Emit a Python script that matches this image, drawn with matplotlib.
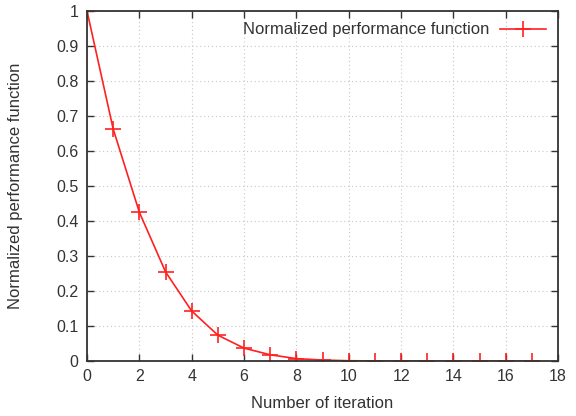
import numpy as np
import matplotlib.pyplot as plt

plt.rcParams['font.family'] = ['Liberation Sans', 'DejaVu Sans']

iterations = np.arange(0, 18)
perf = [1.0, 0.663, 0.425, 0.255, 0.143, 0.074, 0.037, 0.018, 0.007,
        0.003, 0.001, 0.0005, 0.0002, 0.0001, 0.0, 0.0, 0.0, 0.0]

fig = plt.figure(figsize=(5.76, 4.16), dpi=100)
ax = fig.add_axes([0.151, 0.132, 0.818, 0.842])

ax.plot(iterations, perf, color='#ff2020', linewidth=1.2, marker='+',
        markersize=11, markeredgewidth=1.2, label='Normalized performance function')

ax.set_xlim(0, 18)
ax.set_ylim(0, 1)
ax.set_xticks(np.arange(0, 19, 2))
ax.set_yticks(np.arange(0, 1.01, 0.1))
ax.set_yticklabels(['0', '0.1', '0.2', '0.3', '0.4', '0.5', '0.6', '0.7', '0.8', '0.9', '1'])
ax.tick_params(direction='in', top=True, right=True, length=5, width=1,
               labelsize=11.5, colors='#333333', pad=6)
ax.grid(True, linestyle=(0, (1, 2.5)), color='#c8c8c8', linewidth=0.8)
for s in ax.spines.values():
    s.set_linewidth(1.3)
    s.set_color('#333333')

ax.set_xlabel('Number of iteration', fontsize=12, color='#333333', labelpad=8)
ax.set_ylabel('Normalized performance function', fontsize=12, color='#333333', labelpad=24)

ax.legend(loc='upper right', frameon=False, markerfirst=False, fontsize=12,
          handlelength=2.8, handletextpad=0.6, borderaxespad=0.3,
          labelcolor='#333333')

fig.savefig('out.png', dpi=100)
